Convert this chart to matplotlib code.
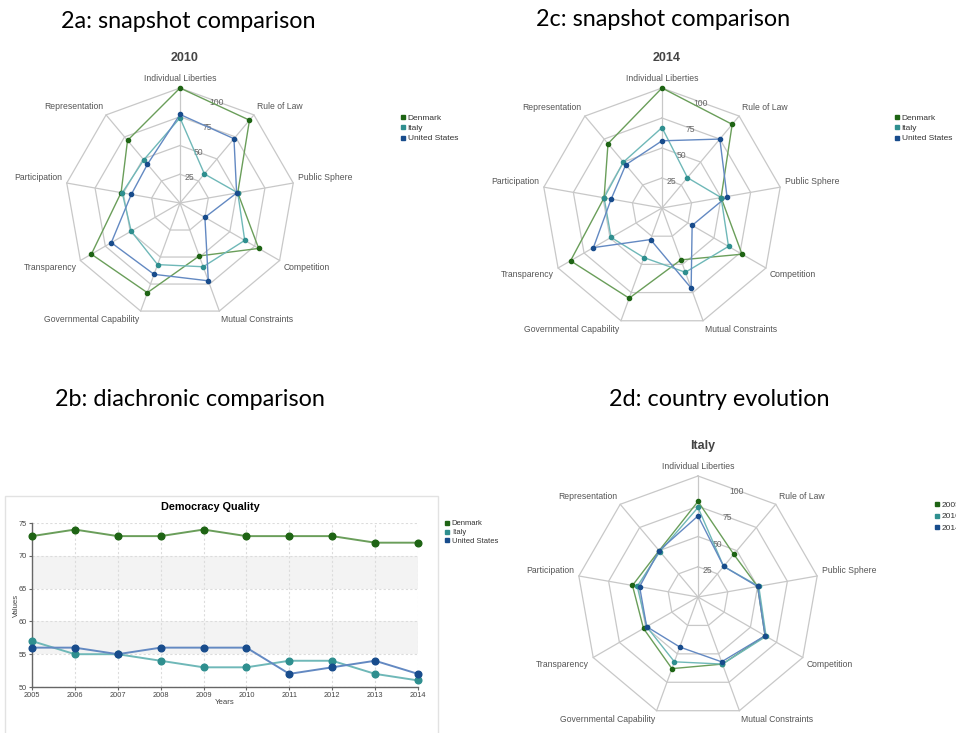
import matplotlib.pyplot as plt
import numpy as np
from matplotlib.lines import Line2D
from matplotlib.patches import Rectangle

W, H = 956, 733

# --- data -------------------------------------------------------------
dimensions = [
    "Individual Liberties", "Rule of Law", "Public Sphere", "Competition",
    "Mutual Constraints", "Governmental Capability", "Transparency",
    "Participation", "Representation",
]
ring_values = [25, 50, 75, 100]
countries = ["Denmark", "Italy", "United States"]

denmark_2010 = [100, 94, 51, 79, 49, 83, 89, 52, 71]
italy_2010 = [74, 33, 51, 65, 59, 57, 49, 51, 49]
usa_2010 = [77, 73, 50, 25, 72, 66, 69, 43, 44]

denmark_2014 = [100, 91, 50, 77, 46, 80, 88, 49, 70]
italy_2014 = [67, 33, 50, 64, 57, 44, 49, 49, 50]
usa_2014 = [56, 75, 55, 29, 71, 28, 66, 43, 47]

italy_2005 = [79, 46, 50, 64, 59, 63, 52, 55, 50]
italy_years = ["2005", "2010", "2014"]

years = [2005, 2006, 2007, 2008, 2009, 2010, 2011, 2012, 2013, 2014]
quality_denmark = [73, 74, 73, 73, 74, 73, 73, 73, 72, 72]
quality_italy = [57, 55, 55, 54, 53, 53, 54, 54, 52, 51]
quality_usa = [56, 56, 55, 56, 56, 56, 52, 53, 54, 52]

# --- styles -----------------------------------------------------------
LINE_COLORS = ["#6a9e5a", "#6fb8b8", "#6389c2"]
MARKER_COLORS = ["#1e6414", "#2f8f8f", "#184c8c"]
GRID = "#c8c8c8"
FONT = "Liberation Sans"
TITLE_FONT = "Lato"

fig = plt.figure(figsize=(W / 100, H / 100), dpi=100)
fig.patch.set_facecolor("white")


def fig_xy(x, y):
    return x / W, 1 - y / H


def add_legend(labels, x, y, size=6, spacing=0.3):
    handles = [
        Line2D([], [], marker="s", linestyle="none", markersize=3.2,
               markerfacecolor=c, markeredgecolor=c)
        for c in MARKER_COLORS
    ]
    fig.legend(handles, labels, loc="upper left", bbox_to_anchor=fig_xy(x, y),
               frameon=False, handlelength=0.6, handletextpad=0.3,
               labelspacing=spacing, borderpad=0, borderaxespad=0,
               prop={"family": FONT, "size": size}, labelcolor="#333333")


def radar(cx, cy, radius, series, title, legend_labels, legend_xy, legend_spacing=0.3):
    s = radius / 100
    half = 150 * s
    ax = fig.add_axes([(cx - half) / W, (H - cy - half) / H, 2 * half / W, 2 * half / H])
    ax.set_xlim(-150, 150)
    ax.set_ylim(-150, 150)
    ax.set_aspect("equal")
    ax.axis("off")

    theta = np.deg2rad(90 - 40 * np.arange(len(dimensions)))
    closed = np.append(theta, theta[0])
    for v in ring_values:
        ax.plot(v * np.cos(closed), v * np.sin(closed), color=GRID, lw=0.9, zorder=1)
    for t in theta:
        ax.plot([0, 100 * np.cos(t)], [0, 100 * np.sin(t)], color=GRID, lw=0.9, zorder=1)

    # ring value labels sit on a line between the first two spokes
    lab_t = np.deg2rad(70)
    for v in ring_values:
        ax.text(0.93 * v * np.cos(lab_t), 0.93 * v * np.sin(lab_t), str(v),
                ha="center", va="center", fontsize=6.2, color="#666666",
                family=FONT, zorder=2)

    for name, t in zip(dimensions, theta):
        x, y = 104 * np.cos(t), 104 * np.sin(t)
        if abs(x) < 1:
            ha = "center"
        elif x > 0:
            ha = "left"
        else:
            ha = "right"
        va = "bottom" if y > 0 else "top"
        ax.text(x, y, name, ha=ha, va=va, fontsize=6.2, color="#555555",
                family=FONT, clip_on=False)

    for i, vals in enumerate(series):
        r = np.append(vals, vals[0])
        ax.plot(r * np.cos(closed), r * np.sin(closed), color=LINE_COLORS[i],
                lw=1.0, zorder=3)
        ax.plot(np.array(vals) * np.cos(theta), np.array(vals) * np.sin(theta),
                linestyle="none", marker="o", markersize=3.0,
                color=MARKER_COLORS[i], zorder=4)

    fig.text(*fig_xy(cx + 5, cy - radius - 30), title, ha="center", va="center",
             fontsize=9, fontweight="bold", color="#444444", family=FONT)
    add_legend(legend_labels, *legend_xy, spacing=legend_spacing)
    return ax


# --- section titles ---------------------------------------------------
for text, x, y in [
    ("2a: snapshot comparison", 188, 22),
    ("2c: snapshot comparison", 663, 20),
    ("2b: diachronic comparison", 190, 399),
    ("2d: country evolution", 719, 399),
]:
    fig.text(*fig_xy(x, y), text, ha="center", va="center", fontsize=16.8,
             family=TITLE_FONT, color="black")

# --- radar charts -----------------------------------------------------
radar(180, 203, 115, [denmark_2010, italy_2010, usa_2010], "2010",
      countries, (400, 114))
radar(662, 208, 120, [denmark_2014, italy_2014, usa_2014], "2014",
      countries, (894, 114))
radar(698, 597, 121, [italy_2005, italy_2010, italy_2014], "Italy",
      italy_years, (934, 501), legend_spacing=0.45)

# --- line chart -------------------------------------------------------
fig.add_artist(Rectangle(fig_xy(5, 740), 433 / W, 244 / H, transform=fig.transFigure,
                         facecolor="white", edgecolor="#e2e2e2", lw=1, zorder=0))

left, right, top, bottom = 32, 418, 523, 687
ax = fig.add_axes([left / W, (H - bottom) / H, (right - left) / W, (bottom - top) / H])
ax.set_facecolor("none")
ax.set_xlim(years[0], years[-1])
ax.set_ylim(50, 75)
ax.axhspan(55, 60, color="#f3f3f3", zorder=0, lw=0)
ax.axhspan(65, 70, color="#f3f3f3", zorder=0, lw=0)
ax.set_xticks(years)
ax.set_yticks([50, 55, 60, 65, 70, 75])
ax.grid(True, color="#dcdcdc", linestyle=(0, (2, 2)), lw=0.8)
ax.set_axisbelow(True)
for side in ["top", "right"]:
    ax.spines[side].set_visible(False)
for side in ["left", "bottom"]:
    ax.spines[side].set_color("#666666")
    ax.spines[side].set_linewidth(1.0)
ax.tick_params(axis="both", length=2.5, color="#666666", labelsize=5.3,
               labelcolor="#444444", pad=1)
for lbl in ax.get_xticklabels() + ax.get_yticklabels():
    lbl.set_family(FONT)

for i, vals in enumerate([quality_denmark, quality_italy, quality_usa]):
    ax.plot(years, vals, color=LINE_COLORS[i], lw=1.4, zorder=3)
    ax.plot(years, vals, linestyle="none", marker="o", markersize=4.8,
            color=MARKER_COLORS[i], zorder=4, clip_on=False)

ax.set_xlabel("Years", fontsize=5.6, family=FONT, color="#444444", labelpad=0)
fig.text(*fig_xy(16, 605), "Values", rotation=90, ha="center", va="center",
         fontsize=5.6, family=FONT, color="#444444")
fig.text(*fig_xy(210, 507), "Democracy Quality", ha="center", va="center",
         fontsize=7.8, fontweight="bold", family=FONT, color="black")
add_legend(countries, 445, 520, size=5.5, spacing=0.2)

fig.savefig("out.png", dpi=100)
